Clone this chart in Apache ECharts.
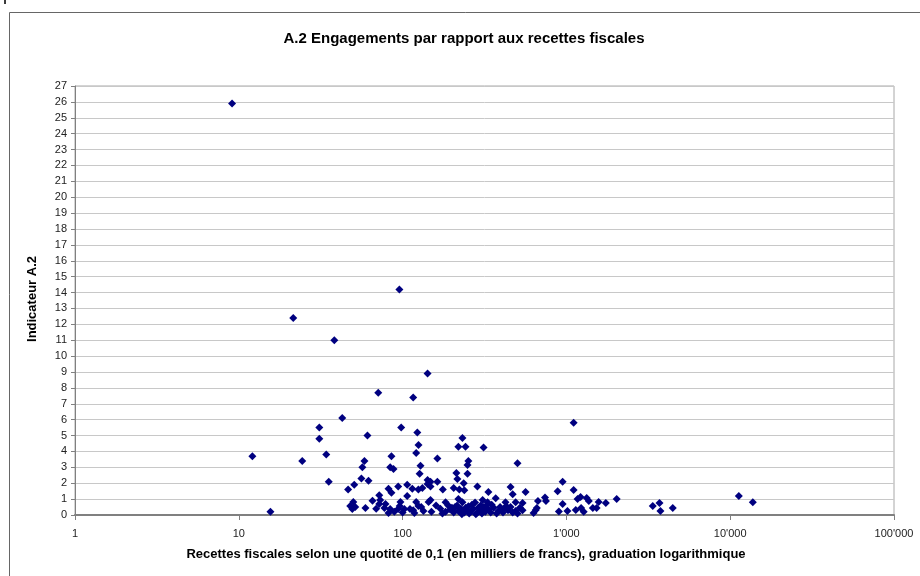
<!DOCTYPE html>
<html>
<head>
<meta charset="utf-8">
<script src="https://cdn.jsdelivr.net/npm/echarts@6/dist/echarts.min.js"></script>
<style>
html,body{margin:0;padding:0;background:#fff;}
#chart{width:920px;height:576px;}
</style>
</head>
<body>
<div id="chart"></div>
<script>
// Recettes fiscales (milliers de francs)
const recettes = [
  9.1, 21.5, 38.3, 95.6, 142, 71, 116, 42.8, 1107, 31,
  31, 61, 98, 12.1, 24.4, 34.2, 35.4, 15.6, 11290, 13740,
  123, 125, 121, 84, 88, 58.5, 56.8, 128.6, 127, 56,
  61.9, 50.7, 46.5, 82, 85.5, 94, 106.7, 106.7, 114.6, 124.8,
  142, 72, 73, 65.5, 78.6, 84, 50, 47.9, 49.3, 51.4,
  59.3, 97, 94, 102.5, 111, 116, 121, 124.8, 134, 144,
  132, 100, 118, 89, 69, 130, 85.5,
  232, 219, 242, 312, 163, 252, 249, 503, 213, 249,
  216, 163, 148, 236, 142, 286, 205, 176, 222, 238,
  334, 456, 470, 148, 219, 183, 232, 277, 308, 330,
  425, 370, 490, 540,
  170, 183, 195, 205, 209, 219, 227, 238, 246, 252,
  260, 270, 286, 298, 312, 320, 334, 345, 360, 385,
  394, 410, 440, 456, 490, 503, 160, 150, 265, 300,
  350, 415, 230, 280, 190, 148,
  563, 948, 884, 1107, 1170, 1330, 1370, 1573, 1740, 2028,
  948, 900, 1015, 1140, 1230, 1275, 1450, 1530, 670, 740,
  750, 650, 630, 540, 660, 1220, 3365, 3700, 3750, 4460,
  82, 77.5, 72, 96,
  175, 200, 215, 243, 255, 290, 305, 325, 375, 430, 470, 520
];
// Indicateur A.2
const indicateur = [
  25.9, 12.4, 11.0, 14.2, 8.9, 7.7, 7.4, 6.1, 5.8, 5.5,
  4.8, 5.0, 5.5, 3.7, 3.4, 3.8, 2.1, 0.2, 1.2, 0.8,
  5.2, 4.4, 3.9, 3.0, 2.9, 3.4, 3.0, 3.1, 2.6, 2.3,
  2.15, 1.9, 1.6, 1.65, 1.4, 1.8, 1.9, 1.2, 1.65, 1.6,
  2.2, 1.25, 0.95, 0.9, 0.7, 0.38, 0.82, 0.57, 0.37, 0.5,
  0.44, 0.82, 0.38, 0.38, 0.38, 0.3, 0.82, 0.57, 0.25, 0.82,
  1.7, 0.15, 0.13, 0.2, 0.4, 0.5, 3.7,
  4.85, 4.3, 4.3, 4.25, 3.55, 3.4, 3.15, 3.25, 2.65, 2.6,
  2.27, 2.1, 2.1, 2.0, 1.95, 1.8, 1.7, 1.6, 1.6, 1.55,
  1.45, 1.76, 1.3, 0.95, 1.0, 0.8, 0.8, 0.78, 0.95, 0.8,
  0.8, 1.05, 0.8, 0.76,
  0.4, 0.2, 0.35, 0.15, 0.5, 0.25, 0.4, 0.15, 0.3, 0.55,
  0.2, 0.4, 0.15, 0.3, 0.5, 0.2, 0.35, 0.15, 0.45, 0.25,
  0.5, 0.15, 0.3, 0.5, 0.25, 0.1, 0.6, 0.2, 0.65, 0.6,
  0.65, 0.4, 0.05, 0.05, 0.6, 1.8,
  1.45, 2.1, 1.5, 1.57, 1.0, 1.07, 0.88, 0.82, 0.76, 1.0,
  0.69, 0.22, 0.25, 0.31, 0.44, 0.2, 0.44, 0.44, 0.88, 1.1,
  0.88, 0.31, 0.13, 0.3, 0.44, 1.13, 0.57, 0.76, 0.25, 0.44,
  0.12, 0.44, 0.7, 0.57,
  0.1, 0.45, 0.6, 0.45, 0.1, 0.45, 0.1, 0.6, 0.1, 0.55, 0.15, 0.45
];
const xTickLabels = {1:'1', 10:'10', 100:'100', 1000:"1'000", 10000:"10'000", 100000:"100'000"};
const chartTitle = 'A.2 Engagements par rapport aux recettes fiscales';
const xName = 'Recettes fiscales selon une quotité de 0,1 (en milliers de francs), graduation logarithmique';
const yName = 'Indicateur A.2';

const points = recettes.map((v, i) => [v, indicateur[i]]);
const FONT = '"Liberation Sans", Arial, sans-serif';

const chart = echarts.init(document.getElementById('chart'), null, {renderer: 'canvas'});
chart.setOption({
  animation: false,
  backgroundColor: '#ffffff',
  grid: {
    left: 75, right: 26, top: 86, bottom: 61,
    show: true, borderColor: '#a8a8a8', borderWidth: 1, backgroundColor: 'transparent'
  },
  xAxis: {
    type: 'log', logBase: 10, min: 1, max: 100000,
    axisLine: {show: true, onZero: false, lineStyle: {color: '#808080', width: 2}},
    axisTick: {show: true, length: 5, lineStyle: {color: '#808080'}},
    minorTick: {show: false},
    splitLine: {show: false},
    axisLabel: {
      color: '#222', fontFamily: FONT, fontSize: 11, margin: 13,
      formatter: v => xTickLabels[Math.round(v)] !== undefined ? xTickLabels[Math.round(v)] : ''
    }
  },
  yAxis: {
    type: 'value', min: 0, max: 27, interval: 1,
    axisLine: {show: true, lineStyle: {color: '#808080', width: 1}},
    axisTick: {show: true, length: 4, lineStyle: {color: '#808080'}},
    splitLine: {show: true, lineStyle: {color: '#c8c8c8', width: 1}},
    axisLabel: {color: '#222', fontFamily: FONT, fontSize: 11, margin: 8}
  },
  series: [{
    type: 'scatter',
    data: points,
    symbol: 'diamond',
    symbolSize: [8, 8],
    itemStyle: {color: '#000080', opacity: 1}
  }],
  graphic: [
    {type: 'rect', shape: {x: 9.5, y: 12.5, width: 940, height: 600},
     style: {fill: 'none', stroke: '#666666', lineWidth: 1}, silent: true},
    {type: 'text', x: 3, y: -14, style: {text: 'par classe', font: '18px ' + FONT, fill: '#000'}},
    {type: 'text', x: 464, y: 39, style: {text: chartTitle, font: 'bold 15px ' + FONT, fill: '#000', textAlign: 'center', textVerticalAlign: 'middle'}},
    {type: 'text', x: 466, y: 554, style: {text: xName, font: 'bold 13px ' + FONT, fill: '#000', textAlign: 'center', textVerticalAlign: 'middle'}},
    {type: 'text', x: 32, y: 299, rotation: Math.PI / 2, style: {text: yName, font: 'bold 13px ' + FONT, fill: '#000', textAlign: 'center', textVerticalAlign: 'middle'}}
  ]
});
</script>
</body>
</html>
